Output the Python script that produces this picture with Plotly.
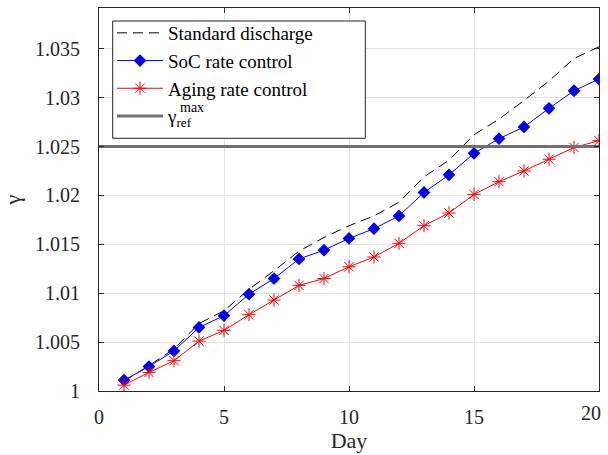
import plotly.graph_objects as go

# ---------------- data ----------------
days = list(range(1, 21))
standard_discharge = [1.0010, 1.0026, 1.0043, 1.0069, 1.0082, 1.0104, 1.0123, 1.0143, 1.0157, 1.0169,
                      1.0179, 1.0193, 1.0219, 1.0236, 1.0262, 1.0278, 1.0297, 1.0317, 1.0340, 1.0352]
soc_rate_control = [1.0011, 1.0025, 1.0041, 1.0065, 1.0077, 1.0099, 1.0115, 1.0135, 1.0144, 1.0156,
                    1.0166, 1.0179, 1.0203, 1.0221, 1.0243, 1.0258, 1.0270, 1.0289, 1.0307, 1.0319]
aging_rate_control = [1.0006, 1.0019, 1.0031, 1.0051, 1.0062, 1.0078, 1.0093, 1.0108, 1.0115, 1.0127,
                      1.0137, 1.0151, 1.0169, 1.0182, 1.0201, 1.0214, 1.0225, 1.0237, 1.0249, 1.0256]
ref_x = [0, 20]
gamma_ref_max = [1.025, 1.025]

x_ticks = [0, 5, 10, 15]
x_tick_text = ["0", "5", "10", "15"]
x_last_tick = [20]
x_last_text = ["20"]
y_ticks = [1, 1.005, 1.01, 1.015, 1.02, 1.025, 1.03, 1.035]
y_tick_text = ["1", "1.005", "1.01", "1.015", "1.02", "1.025", "1.03", "1.035"]

# ---------------- figure ----------------
W, H = 608, 455
ML, MR, MT, MB = 99, 9, 8, 64
PW, PH = W - ML - MR, H - MT - MB

def px_x(p):
    return (p - ML) / PW

def px_y(p):
    return 1 - (p - MT) / PH

FONT = "Liberation Serif, Times New Roman, serif"
AXC = "#262626"

fig = go.Figure()
fig.add_trace(go.Scatter(
    x=days, y=standard_discharge, mode="lines", name="Standard discharge",
    line=dict(color="black", width=1, dash="10px,6px")))
fig.add_trace(go.Scatter(
    x=days, y=soc_rate_control, mode="lines+markers", name="SoC rate control",
    line=dict(color="#0000ff", width=1),
    marker=dict(symbol="diamond", size=8.5, color="#0000ff", line=dict(color="#0000ff", width=1.2))))
fig.add_trace(go.Scatter(
    x=days, y=aging_rate_control, mode="lines+markers", name="Aging rate control",
    line=dict(color="#ff0000", width=1),
    marker=dict(symbol="asterisk-open", size=11, color="#ff0000", line=dict(color="#ff0000", width=1))))
fig.add_trace(go.Scatter(
    x=ref_x, y=gamma_ref_max, mode="lines", name="γ<sub>ref</sub>",
    line=dict(color="#707070", width=3)))
# empty helper trace so that the overlaying label axis is drawn
fig.add_trace(go.Scatter(x=[], y=[], xaxis="x2", yaxis="y", showlegend=False,
                         hoverinfo="skip", mode="lines"))

axis_common = dict(
    showline=True, linecolor=AXC, linewidth=1, mirror="ticks",
    ticks="inside", ticklen=5, tickcolor=AXC, tickwidth=1,
    showgrid=True, gridcolor="#e3e3e3", gridwidth=1, zeroline=False,
    tickfont=dict(family=FONT, size=20, color=AXC), automargin=False,
)

fig.update_layout(
    width=W, height=H,
    margin=dict(l=ML, r=MR, t=MT, b=MB, pad=0, autoexpand=False),
    paper_bgcolor="white", plot_bgcolor="white",
    font=dict(family=FONT, size=20, color=AXC),
    xaxis=dict(range=[0, 20], tickvals=x_ticks, ticktext=x_tick_text, ticklabelstandoff=8,
               title=dict(text="Day", font=dict(family=FONT, size=22, color=AXC), standoff=0),
               **axis_common),
    # label for the last x tick, nudged left so that it stays inside the page
    xaxis2=dict(range=[0, 20], overlaying="x", anchor="y", side="bottom",
                tickvals=x_last_tick, ticktext=x_last_text, ticklabelstandoff=8,
                ticklabelshift=-8, ticklabeloverflow="allow",
                showline=False, showgrid=False, zeroline=False, ticks="",
                tickfont=dict(family=FONT, size=20, color=AXC), automargin=False),
    yaxis=dict(range=[1, 1 + PH / 9780], tickvals=y_ticks, ticktext=y_tick_text,
               ticklabelstandoff=14,
               title=dict(text="γ", font=dict(family=FONT, size=22, color=AXC), standoff=8),
               **axis_common),
    showlegend=True,
    legend=dict(x=px_x(112), y=px_y(14), xanchor="left", yanchor="top",
                bgcolor="rgba(0,0,0,0)", borderwidth=0, itemwidth=46,
                font=dict(family=FONT, size=19, color="black"), tracegroupgap=0),
    shapes=[dict(type="rect", xref="paper", yref="paper",
                 x0=px_x(112.7), x1=px_x(365.3), y0=px_y(138.3), y1=px_y(21),
                 line=dict(color=AXC, width=1), fillcolor="white", layer="above")],
    annotations=[dict(text="max", xref="paper", yref="paper", x=px_x(178), y=px_y(107),
                      xanchor="left", yanchor="middle", showarrow=False,
                      font=dict(family=FONT, size=14, color="black"))],
)

fig.write_html("out.html")
